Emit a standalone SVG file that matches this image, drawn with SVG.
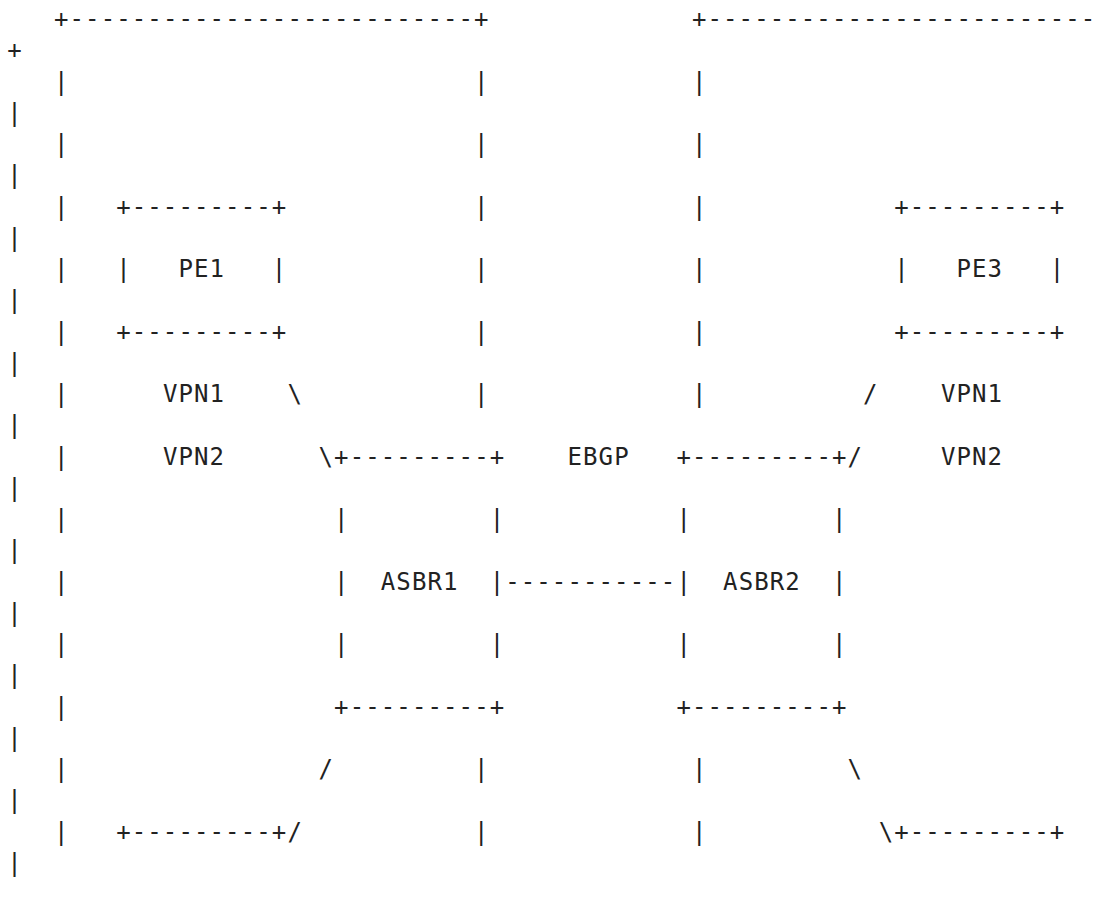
<svg xmlns="http://www.w3.org/2000/svg" width="1105" height="900" viewBox="0 0 1105 900" xml:space="preserve">
<style>
text{font-family:"DejaVu Sans Mono","Liberation Mono",monospace;font-size:24px;letter-spacing:1.11px;fill:#222;white-space:pre}
</style>
<rect width="1105" height="900" fill="#fff"/>
<g id="as1">
<text x="54" y="27">+--------------------------+</text>
<text x="54" y="89.5">|</text><text x="474.1" y="89.5">|</text>
<text x="54" y="152">|</text><text x="474.1" y="152">|</text>
<text x="54" y="214.5">|</text><text x="474.1" y="214.5">|</text>
<text x="54" y="277">|</text><text x="474.1" y="277">|</text>
<text x="54" y="339.5">|</text><text x="474.1" y="339.5">|</text>
<text x="54" y="402">|</text><text x="474.1" y="402">|</text>
<text x="54" y="464.5">|</text>
<text x="54" y="527">|</text>
<text x="54" y="589.5">|</text>
<text x="54" y="652">|</text>
<text x="54" y="714.5">|</text>
<text x="54" y="777">|</text><text x="474.1" y="777">|</text>
<text x="54" y="839.5">|</text><text x="474.1" y="839.5">|</text>
</g>
<g id="as2">
<text x="691.9" y="27">+-------------------------</text>
<text x="7.3" y="58.25">+</text>
<text x="691.9" y="89.5">|</text><text x="7.3" y="120.75">|</text>
<text x="691.9" y="152">|</text><text x="7.3" y="183.25">|</text>
<text x="691.9" y="214.5">|</text><text x="7.3" y="245.75">|</text>
<text x="691.9" y="277">|</text><text x="7.3" y="308.25">|</text>
<text x="691.9" y="339.5">|</text><text x="7.3" y="370.75">|</text>
<text x="691.9" y="402">|</text><text x="7.3" y="433.25">|</text>
<text x="7.3" y="495.75">|</text>
<text x="7.3" y="558.25">|</text>
<text x="7.3" y="620.75">|</text>
<text x="7.3" y="683.25">|</text>
<text x="7.3" y="745.75">|</text>
<text x="691.9" y="777">|</text><text x="7.3" y="808.25">|</text>
<text x="691.9" y="839.5">|</text><text x="7.3" y="870.75">|</text>
</g>
<g id="pe1">
<text x="116.2" y="214.5">+---------+</text>
<text x="116.2" y="277">|   PE1   |</text>
<text x="116.2" y="339.5">+---------+</text>
</g>
<g id="pe3">
<text x="894.2" y="214.5">+---------+</text>
<text x="894.2" y="277">|   PE3   |</text>
<text x="894.2" y="339.5">+---------+</text>
</g>
<g id="asbr1">
<text x="334.1" y="464.5">+---------+</text>
<text x="334.1" y="527">|         |</text>
<text x="334.1" y="589.5">|  ASBR1  |</text>
<text x="334.1" y="652">|         |</text>
<text x="334.1" y="714.5">+---------+</text>
</g>
<g id="asbr2">
<text x="676.4" y="464.5">+---------+</text>
<text x="676.4" y="527">|         |</text>
<text x="676.4" y="589.5">|  ASBR2  |</text>
<text x="676.4" y="652">|         |</text>
<text x="676.4" y="714.5">+---------+</text>
</g>
<g id="pe-bottom-left">
<text x="116.2" y="839.5">+---------+</text>
</g>
<g id="pe-bottom-right">
<text x="894.2" y="839.5">+---------+</text>
</g>
<g id="labels">
<text x="162.9" y="402">VPN1</text>
<text x="162.9" y="464.5">VPN2</text>
<text x="940.9" y="402">VPN1</text>
<text x="940.9" y="464.5">VPN2</text>
<text x="567.5" y="464.5">EBGP</text>
</g>
<g id="connectors">
<text x="287.4" y="402">\</text>
<text x="318.5" y="464.5">\</text>
<text x="863.1" y="402">/</text>
<text x="847.5" y="464.5">/</text>
<text x="505.2" y="589.5">-----------</text>
<text x="318.5" y="777">/</text>
<text x="287.4" y="839.5">/</text>
<text x="847.5" y="777">\</text>
<text x="878.7" y="839.5">\</text>
</g>
</svg>
